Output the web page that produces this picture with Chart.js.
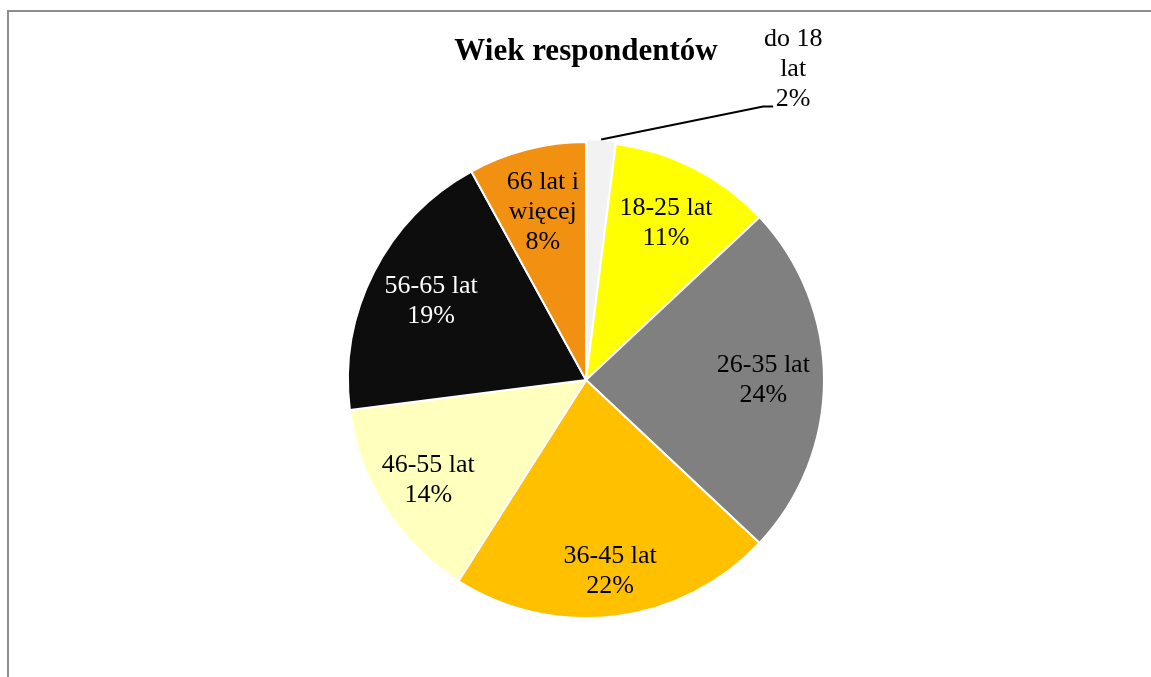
<!DOCTYPE html>
<html>
<head>
<meta charset="utf-8">
<script src="https://cdn.jsdelivr.net/npm/chart.js@4.4.0/dist/chart.umd.min.js"></script>
<style>
  html, body { margin: 0; padding: 0; background: #fff; overflow: hidden; }
  #wrap { position: relative; width: 1151px; height: 677px; }
  #frame { position: absolute; left: 7px; top: 10px; width: 1200px; height: 700px;
           border-left: 2px solid #8e8e8e; border-top: 2px solid #8e8e8e; }
  #my-chart { position: absolute; left: 0; top: 0; }
</style>
</head>
<body>
<div id="wrap">
  <div id="frame"></div>
  <canvas id="my-chart" width="1151" height="677"></canvas>
</div>
<script>
// age groups, clockwise from 12 o'clock
const categories = ["do 18\nlat", "18-25 lat", "26-35 lat", "36-45 lat", "46-55 lat", "56-65 lat", "66 lat i\nwięcej"];
const values = [2, 11, 24, 22, 14, 19, 8];

const sliceColors = ["#F2F2F2", "#FFFF00", "#808080", "#FFC000", "#FFFFBE", "#0D0D0D", "#F29111"];
const textColors = ["#000", "#000", "#000", "#000", "#000", "#fff", "#000"];
const labelRadius = [0, 0.74, 0.745, 0.81, 0.785, 0.73, 0.73];

const serif = "'Times New Roman', 'Liberation Serif', serif";

let ctx = document.querySelector("#my-chart").getContext('2d');

// draws the "name / percent" labels the way Excel does
const sliceLabels = {
    id: 'sliceLabels',
    afterDatasetsDraw(chart) {
        const c = chart.ctx;
        const meta = chart.getDatasetMeta(0);
        c.save();
        c.font = "26px " + serif;
        c.textAlign = 'center';
        c.textBaseline = 'middle';
        const lh = 30;
        meta.data.forEach((arc, i) => {
            const p = arc.getProps(['x', 'y', 'startAngle', 'endAngle', 'outerRadius'], true);
            const mid = (p.startAngle + p.endAngle) / 2;
            const off = arc.options.offset || 0;
            const cx = p.x + Math.cos(mid) * off;
            const cy = p.y + Math.sin(mid) * off;
            const lines = categories[i].split('\n').concat(values[i] + '%');
            c.fillStyle = textColors[i];

            if (i === 0) {
                // small slice: label outside with a leader line
                const sx = cx + Math.cos(mid) * (p.outerRadius - 3);
                const sy = cy + Math.sin(mid) * (p.outerRadius - 3);
                const ex = sx + 162, ey = sy - 33;
                c.strokeStyle = '#000';
                c.lineWidth = 2;
                c.beginPath();
                c.moveTo(sx, sy);
                c.lineTo(ex, ey);
                c.lineTo(ex + 10, ey);
                c.stroke();
                const tx = ex + 30;
                const lastY = ey - 7;
                lines.forEach((t, k) => c.fillText(t, tx, lastY - (lines.length - 1 - k) * lh));
            } else {
                const r = p.outerRadius * labelRadius[i];
                const lx = cx + Math.cos(mid) * r;
                const ly = cy + Math.sin(mid) * r;
                lines.forEach((t, k) => c.fillText(t, lx, ly + (k - (lines.length - 1) / 2) * lh));
            }
        });
        c.restore();
    }
};

let data = {
    labels: categories,
    datasets: [{
        data: values,
        backgroundColor: sliceColors,
        borderColor: '#fff',
        borderWidth: 2,
        offset: [6, 0, 0, 0, 0, 0, 0]
    }]
};

function printChart() {
    new Chart(ctx, {
        type: 'pie',
        data: data,
        plugins: [sliceLabels],
        options: {
            responsive: false,
            animation: false,
            events: [],
            radius: 238,
            layout: { padding: { left: 21, right: 0, top: 0, bottom: 7 } },
            plugins: {
                legend: { display: false },
                tooltip: { enabled: false },
                title: {
                    display: true,
                    text: 'Wiek respondentów',
                    color: '#000',
                    font: { family: serif, size: 31, weight: 'bold', lineHeight: 1.2 },
                    padding: { top: 33, bottom: 20 }
                }
            }
        }
    });
}

printChart();
</script>
</body>
</html>
